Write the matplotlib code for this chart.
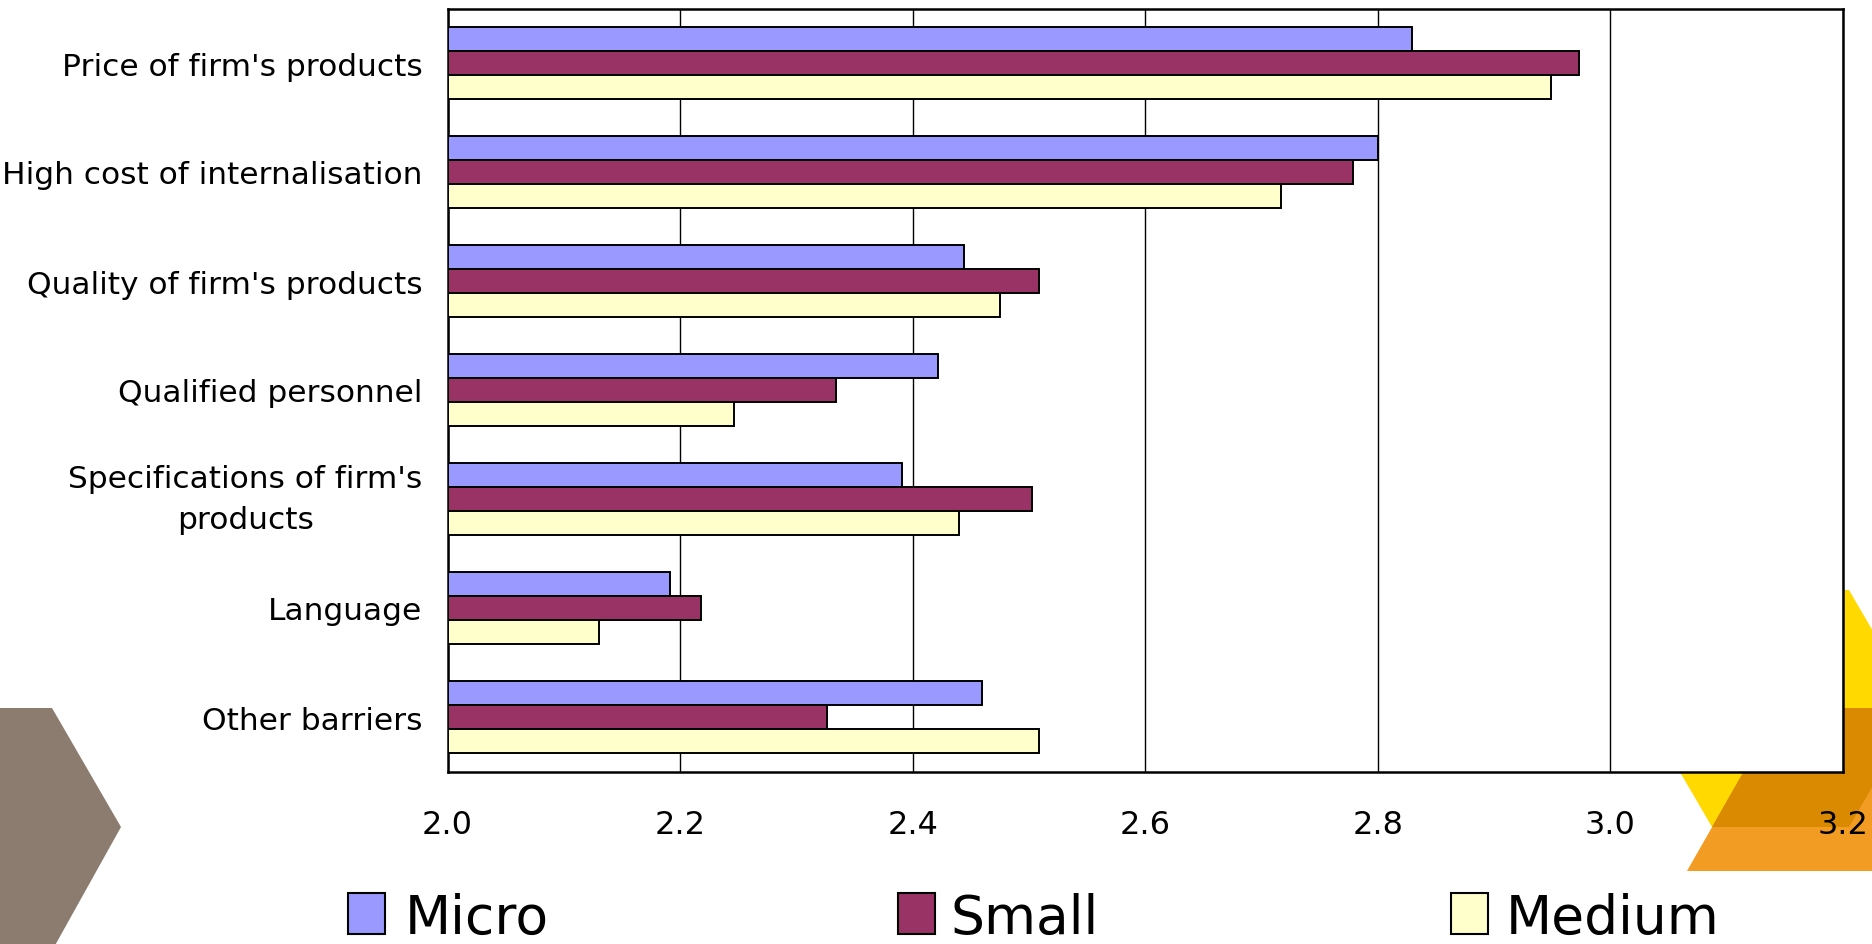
#!/usr/bin/env python3
"""
Horizontal grouped bar chart of barriers to internationalisation,
mean scores by firm size (micro / small / medium).
"""

import numpy as np
import matplotlib
matplotlib.use("Agg")
import matplotlib.pyplot as plt
from matplotlib.patches import Polygon, Rectangle

# --- data -----------------------------------------------------------------
categories = [
    "Price of firm's products",
    "High cost of internalisation",
    "Quality of firm's products",
    "Qualified personnel",
    "Specifications of firm's\nproducts",
    "Language",
    "Other barriers",
]
micro = [2.829, 2.800, 2.444, 2.422, 2.391, 2.191, 2.460]
small = [2.973, 2.779, 2.509, 2.334, 2.503, 2.218, 2.326]
medium = [2.949, 2.717, 2.475, 2.246, 2.440, 2.130, 2.509]

series_names = ["Micro", "Small", "Medium"]
series_colors = ["#9999FF", "#993366", "#FFFFCC"]
x_ticks = [2.0, 2.2, 2.4, 2.6, 2.8, 3.0, 3.2]

W, H = 1872, 945
FONT = "DejaVu Sans"


def px(x, y):
    """Pixel position (origin top-left) -> figure fraction."""
    return (x / W, 1 - y / H)


def add_decor(fig):
    """Background shapes around the plot area."""
    shapes = [
        ([(-5, 709), (52, 709), (121, 828), (53, 950), (-5, 950)], "#8C7B6F"),
        ([(1712, 591), (1849, 591), (1918, 709.5), (1849, 828),
          (1712, 828), (1643, 709.5)], "#FFD900"),
        ([(1780, 709), (1960, 709), (1960, 872), (1687, 872)], "#F39C24"),
        ([(1780, 709), (1918, 709), (1849, 828), (1712, 828)], "#DA8A00"),
    ]
    for pts, color in shapes:
        poly = Polygon([px(*p) for p in pts], closed=True, facecolor=color,
                       edgecolor="none", transform=fig.transFigure, zorder=-5)
        fig.add_artist(poly)


def add_legend(fig):
    """Legend along the bottom edge: square swatch + label."""
    items = [(348, 405), (898, 951), (1451, 1506)]
    for (sq_x, txt_x), name, color in zip(items, series_names, series_colors):
        x0, y0 = px(sq_x, 935)
        rect = Rectangle((x0, y0), 37 / W, 41 / H, facecolor=color,
                         edgecolor="black", linewidth=1.5,
                         transform=fig.transFigure)
        fig.add_artist(rect)
        tx, ty = px(txt_x, 934)
        fig.text(tx, ty, name, fontsize=38.5, family=FONT,
                 ha="left", va="baseline")


def plot_chart():
    fig = plt.figure(figsize=(W / 100, H / 100), dpi=100)
    add_decor(fig)

    ax = fig.add_axes([447.5 / W, 1 - 772.5 / H, (1843 - 447.5) / W,
                       (772.5 - 9.5) / H])
    ax.set_facecolor("white")

    y = np.arange(len(categories))
    h = 0.219
    for offset, vals, color in zip([-h, 0, h], [micro, small, medium],
                                   series_colors):
        widths = np.array(vals) - 2.0
        ax.barh(y + offset, widths, left=2.0, height=h, color=color,
                edgecolor="black", linewidth=1.4, zorder=3)

    ax.set_xlim(2.0, 3.2)
    ax.set_ylim(len(categories) - 0.5, -0.5)
    ax.set_xticks(x_ticks)
    ax.set_xticklabels([f"{t:.1f}" for t in x_ticks], fontsize=23, family=FONT)
    ax.set_yticks(y)
    ax.set_yticklabels(categories, fontsize=22.5, family=FONT)
    for lbl in ax.get_yticklabels():
        if "\n" in lbl.get_text():
            # two-line label: centre the whole block on the group
            lbl.set_multialignment("center")
            lbl.set_linespacing(1.5)
            lbl.set_verticalalignment("center")

    ax.tick_params(axis="x", length=0, pad=27)
    ax.tick_params(axis="y", length=0, pad=18)

    ax.grid(True, axis="x", color="black", linewidth=1.0)
    ax.set_axisbelow(True)
    for side in ax.spines.values():
        side.set_linewidth(1.8)
        side.set_color("black")

    add_legend(fig)
    fig.savefig("out.png", dpi=100)
    plt.close(fig)


def main():
    plot_chart()
    return 0


if __name__ == "__main__":
    main()
